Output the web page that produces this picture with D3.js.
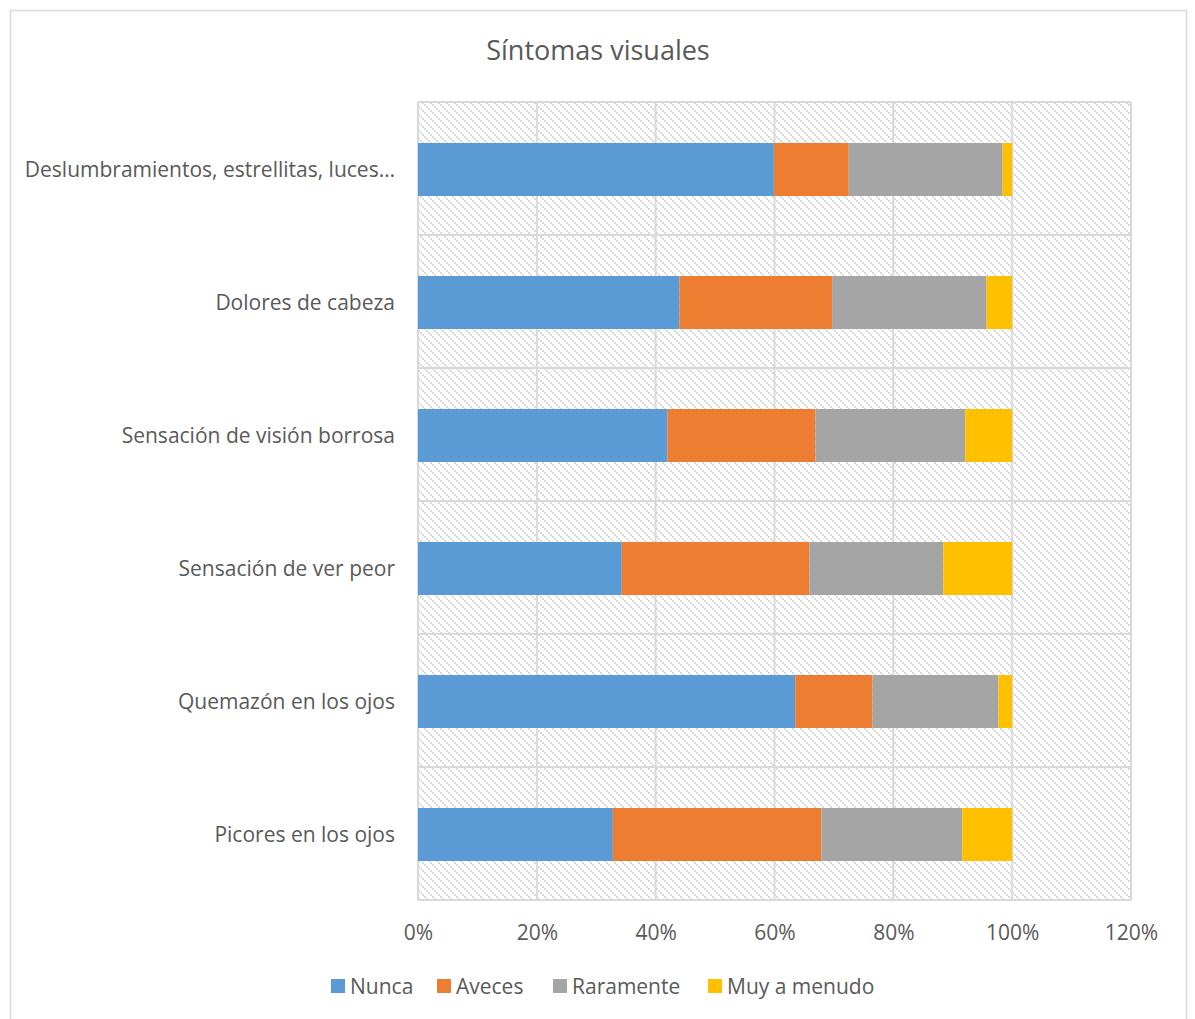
<!DOCTYPE html>
<html>
<head>
<meta charset="utf-8">
<script src="https://d3js.org/d3.v7.min.js"></script>
<style>
  body { margin: 0; background: #fff; }
  text { font-family: "Open Sans", Lato, sans-serif; fill: #595959; }
</style>
</head>
<body>
<svg width="1195" height="1019"></svg>
<script>
// data (percent of answers)
var categories = ["Deslumbramientos, estrellitas, luces…", "Dolores de cabeza",
  "Sensación de visión borrosa", "Sensación de ver peor",
  "Quemazón en los ojos", "Picores en los ojos"];
var seriesNames = ["Nunca", "Aveces", "Raramente", "Muy a menudo"];
var nunca      = [59.9, 44.0, 42.0, 34.3, 63.5, 32.8];
var aveces     = [12.6, 25.7, 24.9, 31.6, 13.0, 35.1];
var raramente  = [25.9, 26.0, 25.2, 22.5, 21.2, 23.7];
var muyAMenudo = [1.6, 4.3, 7.9, 11.6, 2.3, 8.4];
var xTicks = [0, 20, 40, 60, 80, 100, 120];
var colors = ["#5b9bd5", "#ed7d31", "#a5a5a5", "#ffc000"];

var svg = d3.select("svg");

// outer chart border
svg.append("rect")
    .attr("x", 10.5).attr("y", 10.5)
    .attr("width", 1176).attr("height", 1020)
    .attr("fill", "none").attr("stroke", "#d9d9d9").attr("stroke-width", 1.5);

// hatch pattern for plot background
var defs = svg.append("defs");
var pat = defs.append("pattern")
    .attr("id", "hatch").attr("patternUnits", "userSpaceOnUse")
    .attr("width", 8).attr("height", 8);
[[0, 0], [2, 2], [4, 4], [6, 6]].forEach(function(p) {
  pat.append("rect").attr("x", p[0]).attr("y", p[1])
      .attr("width", 2).attr("height", 2).attr("fill", "#dadada");
});

var plotL = 418, plotR = 1131, plotT = 102, plotB = 900;

var x = d3.scaleLinear().domain([0, 120]).range([plotL, plotR]);
var y = d3.scaleBand().domain(categories).range([plotT, plotB]).paddingInner(0).paddingOuter(0);

// plot background
svg.append("rect")
    .attr("x", plotL).attr("y", plotT)
    .attr("width", plotR - plotL).attr("height", plotB - plotT)
    .attr("fill", "url(#hatch)");

// gridlines
svg.append("g").selectAll("line").data(xTicks).enter().append("line")
    .attr("x1", function(d) { return x(d); }).attr("x2", function(d) { return x(d); })
    .attr("y1", plotT).attr("y2", plotB)
    .attr("stroke", "#d9d9d9").attr("stroke-width", 2);
svg.append("g").selectAll("line").data(categories.concat(["end"])).enter().append("line")
    .attr("x1", plotL).attr("x2", plotR)
    .attr("y1", function(d, i) { return plotT + i * y.step(); })
    .attr("y2", function(d, i) { return plotT + i * y.step(); })
    .attr("stroke", "#d9d9d9").attr("stroke-width", 2);

// stacked bars
var rows = categories.map(function(c, i) {
  return { cat: c, Nunca: nunca[i], Aveces: aveces[i], Raramente: raramente[i], "Muy a menudo": muyAMenudo[i] };
});
var stack = d3.stack().keys(seriesNames)(rows);
var barH = 53;

svg.append("g").selectAll("g").data(stack).enter().append("g")
    .attr("fill", function(d, i) { return colors[i]; })
    .selectAll("rect").data(function(d) { return d; }).enter().append("rect")
    .attr("x", function(d) { return x(d[0]); })
    .attr("y", function(d) { return y(d.data.cat) + (y.bandwidth() - barH) / 2 + 1; })
    .attr("width", function(d) { return x(d[1]) - x(d[0]); })
    .attr("height", barH);

// x axis
var xAxis = svg.append("g")
    .attr("transform", "translate(0," + plotB + ")")
    .call(d3.axisBottom(x).tickValues(xTicks).tickSize(0).tickPadding(25)
        .tickFormat(function(d) { return d + "%"; }));
xAxis.select(".domain").remove();
xAxis.selectAll("text").style("font-size", "21px").attr("fill", "#595959");

// y axis
var yAxis = svg.append("g")
    .attr("transform", "translate(" + plotL + ",0)")
    .call(d3.axisLeft(y).tickSize(0).tickPadding(23));
yAxis.select(".domain").remove();
yAxis.selectAll("text").style("font-size", "21px").attr("fill", "#595959").attr("dy", "0.4em");

// title
svg.append("text")
    .attr("x", 598).attr("y", 60)
    .attr("text-anchor", "middle")
    .style("font-size", "27px")
    .text("Síntomas visuales");

// legend
var legendX = [331, 437, 553, 708];
var legend = svg.append("g").selectAll("g").data(seriesNames).enter().append("g")
    .attr("transform", function(d, i) { return "translate(" + legendX[i] + ",979)"; });
legend.append("rect").attr("width", 14).attr("height", 14)
    .attr("fill", function(d, i) { return colors[i]; });
legend.append("text").attr("x", 19).attr("y", 15)
    .style("font-size", "21px")
    .text(function(d) { return d; });
</script>
</body>
</html>
